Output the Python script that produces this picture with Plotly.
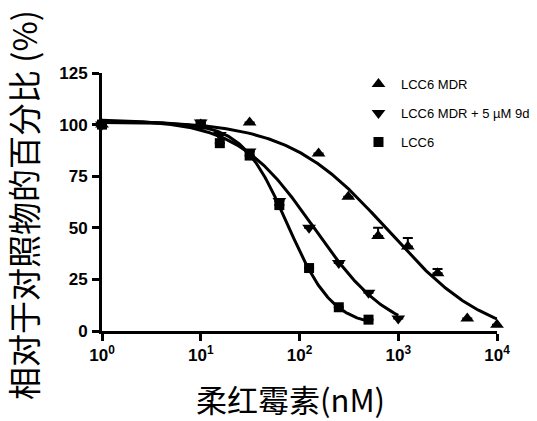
import numpy as np
import plotly.graph_objects as go

# Daunorubicin concentration (nM) and cell viability relative to control (%)
mdr_x = [1, 10, 31.25, 156, 312, 625, 1250, 2500, 5000, 10000]
mdr_y = [100, 100, 101, 86, 65, 46, 41, 28, 6, 3]
mdr_err = [0, 0, 0, 0, 0, 4, 4, 2, 0, 0]

mdr9d_x = [1, 10, 15.6, 31.25, 62.5, 125, 250, 500, 1000]
mdr9d_y = [100, 101, 95, 87, 63, 50, 33, 18.5, 6]
mdr9d_err = [0, 0, 0, 0, 0, 0, 0, 0, 0]

lcc6_x = [1, 10, 15.6, 31.25, 62.5, 125, 250, 500]
lcc6_y = [100, 100, 91, 85, 61, 30.5, 11.5, 5.5]
lcc6_err = [0, 0, 0, 0, 0, 0, 0, 0]

# Four-parameter logistic fits: (top, bottom, logIC50, hill slope, max conc)
fit_mdr = (102, -5, 2.9, 0.86, 10000)
fit_mdr9d = (102.5, -3, 2.15, 1.12, 1000)
fit_lcc6 = (101, 2, 1.88, 1.9, 500)

x_ticks = [1, 10, 100, 1000, 10000]
x_ticktext = ["10<sup>0</sup>", "10<sup>1</sup>", "10<sup>2</sup>", "10<sup>3</sup>", "10<sup>4</sup>"]
y_ticks = [0, 25, 50, 75, 100, 125]

names = ["LCC6 MDR", "LCC6 MDR + 5 \u00b5M 9d", "LCC6"]
symbols = ["triangle-up", "triangle-down", "square"]


def four_pl(fit):
    top, bottom, logc, hill, xmax = fit
    lx = np.linspace(0, np.log10(xmax), 300)
    y = bottom + (top - bottom) / (1 + 10 ** ((lx - logc) * hill))
    return 10 ** lx, y


fig = go.Figure()

series = [
    (mdr_x, mdr_y, mdr_err, fit_mdr),
    (mdr9d_x, mdr9d_y, mdr9d_err, fit_mdr9d),
    (lcc6_x, lcc6_y, lcc6_err, fit_lcc6),
]

for (xs, ys, errs, fit), name, sym in zip(series, names, symbols):
    cx, cy = four_pl(fit)
    fig.add_trace(go.Scatter(
        x=cx, y=cy, mode="lines", line=dict(color="black", width=3),
        showlegend=False, hoverinfo="skip", cliponaxis=False,
    ))
    fig.add_trace(go.Scatter(
        x=xs, y=ys, mode="markers", name=name, legendgroup=name,
        marker=dict(symbol=sym, size=12 if sym != "square" else 10, color="black"),
        error_y=dict(type="data", symmetric=False, array=errs,
                     arrayminus=[0] * len(errs), color="black",
                     thickness=2, width=5),
        cliponaxis=False,
    ))

axis_common = dict(
    showline=True, linecolor="black", linewidth=3,
    ticks="outside", ticklen=7, tickwidth=3, tickcolor="black",
    showgrid=False, zeroline=False,
    tickfont=dict(family="Liberation Sans", size=17, color="black", weight="bold"),
)

fig.update_xaxes(
    type="log", range=[0, 4], tickvals=x_ticks, ticktext=x_ticktext,
    **axis_common,
)
fig.update_yaxes(
    range=[0, 125], tickvals=y_ticks, ticklabelstandoff=1,
    **axis_common,
)

fig.add_annotation(
    text="相对于对照物的百分比 (%)", textangle=-90,
    xref="paper", yref="paper", x=-0.2, y=0.488,
    xanchor="center", yanchor="middle", showarrow=False,
    font=dict(family="Noto Sans CJK SC", size=33, color="black"),
)
fig.add_annotation(
    text="柔红霉素(nM)",
    xref="paper", yref="paper", x=0.478, y=-0.262,
    xanchor="center", yanchor="middle", showarrow=False,
    font=dict(family="Noto Sans CJK SC", size=31, color="black"),
)

fig.update_layout(
    width=537, height=421,
    margin=dict(l=102, r=40, t=73, b=90, autoexpand=False),
    paper_bgcolor="white", plot_bgcolor="white",
    showlegend=True,
    legend=dict(
        x=0.643, y=1.015, xanchor="left", yanchor="top",
        itemwidth=35,
        font=dict(family="Liberation Sans", size=13, color="black"),
        tracegroupgap=9, bgcolor="rgba(0,0,0,0)",
    ),
)

fig.write_html("out.html")
